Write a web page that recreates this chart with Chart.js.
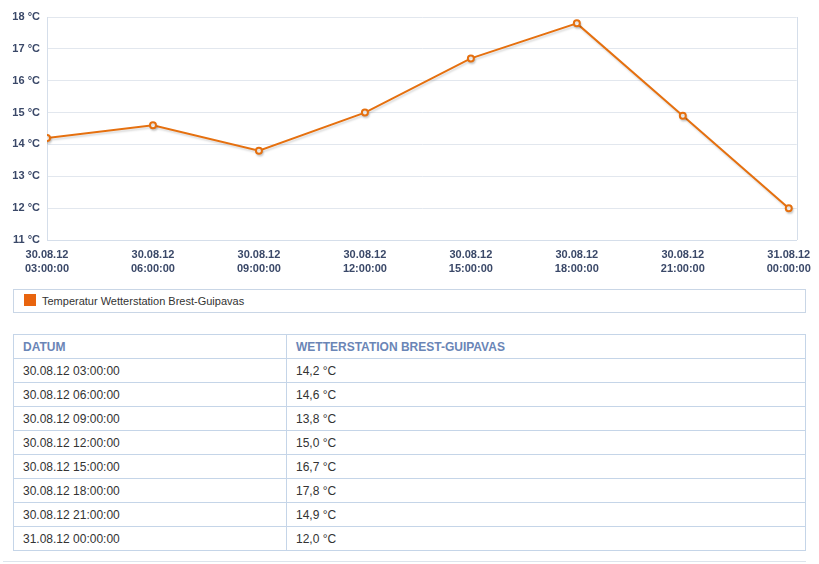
<!DOCTYPE html>
<html>
<head>
<meta charset="utf-8">
<script src="https://cdn.jsdelivr.net/npm/chart.js@4.4.1/dist/chart.umd.min.js"></script>
<style>
  html, body { margin: 0; padding: 0; background: #fff; }
  body { width: 819px; height: 564px; position: relative; overflow: hidden; font-family: "Liberation Sans", Arial, sans-serif; }
  #chartBox { position: absolute; left: 0; top: 0; width: 819px; height: 278px; }
  #legend { position: absolute; left: 13px; top: 289px; width: 791px; height: 22px; border: 1px solid #c9d6e6; box-sizing: content-box; font-size: 11px; color: #333; }
  #legend .sw { position: absolute; left: 10px; top: 4px; width: 12px; height: 12px; background: #e8640e; }
  #legend .lt { position: absolute; left: 28px; top: 5px; line-height: 12px; }
  #tbl { position: absolute; left: 13px; top: 334px; width: 793px; border-collapse: collapse; font-size: 12px; color: #333; }
  #tbl tr { height: 24px; }
  #tbl td, #tbl th { border: 1px solid #c5d5e8; height: 24px; padding: 0 0 0 9px; text-align: left; box-sizing: border-box; }
  #tbl th { color: #6a85b6; font-weight: bold; text-transform: uppercase; }
  #tbl td:first-child, #tbl th:first-child { width: 273px; }
  #bottomLine { position: absolute; left: 3px; top: 561px; width: 803px; height: 0; border-top: 1px solid #dde4ec; }
</style>
</head>
<body>
<div id="chartBox"><canvas id="c"></canvas></div>
<div id="legend"><div class="sw"></div><div class="lt"></div></div>
<table id="tbl"><thead><tr><th></th><th></th></tr></thead><tbody></tbody></table>
<div id="bottomLine"></div>
<script>
const categories = ["30.08.12 03:00:00", "30.08.12 06:00:00", "30.08.12 09:00:00", "30.08.12 12:00:00", "30.08.12 15:00:00", "30.08.12 18:00:00", "30.08.12 21:00:00", "31.08.12 00:00:00"];
const temperatures = [14.2, 14.6, 13.8, 15.0, 16.7, 17.8, 14.9, 12.0];
const seriesName = "Temperatur Wetterstation Brest-Guipavas";
const columnHeaders = ["Datum", "Wetterstation Brest-Guipavas"];
const yTicks = [11, 12, 13, 14, 15, 16, 17, 18];
const unit = "°C";

// Legend + table
document.querySelector('#legend .lt').textContent = seriesName;
const ths = document.querySelectorAll('#tbl th');
ths[0].textContent = columnHeaders[0];
ths[1].textContent = columnHeaders[1];
const tbody = document.querySelector('#tbl tbody');
categories.forEach((c, i) => {
  const tr = document.createElement('tr');
  const td1 = document.createElement('td'); td1.textContent = c;
  const td2 = document.createElement('td'); td2.textContent = temperatures[i].toFixed(1).replace('.', ',') + ' ' + unit;
  tr.appendChild(td1); tr.appendChild(td2); tbody.appendChild(tr);
});

const gridColor = '#e2e7ee';
const borderColor = '#d5deea';
const labelColor = '#3a4868';
const lineColor = '#e5700f';

const shadowPlugin = {
  id: 'shadow',
  beforeDatasetsDraw(chart) {
    const ctx = chart.ctx;
    ctx.save();
    ctx.shadowColor = 'rgba(0,0,0,0.15)';
    ctx.shadowOffsetX = 1;
    ctx.shadowOffsetY = 2;
    ctx.shadowBlur = 2;
  },
  afterDatasetsDraw(chart) { chart.ctx.restore(); }
};
const rightBorder = {
  id: 'rightBorder',
  beforeDatasetsDraw(chart) {
    const { ctx, chartArea } = chart;
    ctx.save();
    ctx.strokeStyle = borderColor;
    ctx.lineWidth = 1;
    ctx.beginPath();
    ctx.moveTo(Math.round(chartArea.right) + 0.5, chartArea.top);
    ctx.lineTo(Math.round(chartArea.right) + 0.5, chartArea.bottom);
    ctx.stroke();
    ctx.restore();
  }
};

new Chart(document.getElementById('c'), {
  type: 'line',
  data: {
    datasets: [{
      label: seriesName,
      data: temperatures.map((v, i) => ({ x: i, y: v })),
      borderColor: lineColor,
      borderWidth: 2,
      backgroundColor: '#ffffff',
      pointBackgroundColor: '#ffffff',
      pointBorderColor: lineColor,
      pointBorderWidth: 2,
      pointRadius: 3,
      tension: 0,
      fill: false
    }]
  },
  options: {
    responsive: true,
    maintainAspectRatio: false,
    animation: false,
    events: [],
    layout: { padding: { top: 17, right: 21, left: 0, bottom: 0 } },
    plugins: { legend: { display: false }, tooltip: { enabled: false } },
    scales: {
      x: {
        type: 'linear',
        min: 0,
        max: categories.length - 1 + 0.075,
        afterFit(s) { s.height = 38; },
        afterBuildTicks(s) { s.ticks = categories.map((c, i) => ({ value: i })); },
        grid: { display: false, drawTicks: false },
        border: { display: true, color: borderColor, width: 1 },
        ticks: {
          autoSkip: false,
          maxRotation: 0,
          padding: 8,
          color: labelColor,
          font: { family: '"Liberation Sans", Arial, sans-serif', size: 11, weight: 'bold', lineHeight: 1.25 },
          callback(v) { const c = categories[v]; return c ? c.split(' ') : null; }
        }
      },
      y: {
        min: yTicks[0],
        max: yTicks[yTicks.length - 1],
        afterFit(s) { s.width = 47; },
        afterBuildTicks(s) { s.ticks = yTicks.map(v => ({ value: v })); },
        grid: { color: gridColor, lineWidth: 1, drawTicks: false },
        border: { display: true, color: borderColor, width: 1 },
        ticks: {
          padding: 7,
          color: labelColor,
          font: { family: '"Liberation Sans", Arial, sans-serif', size: 11, weight: 'bold' },
          callback(v) { return v + ' ' + unit; }
        }
      }
    }
  },
  plugins: [rightBorder, shadowPlugin]
});
</script>
</body>
</html>
